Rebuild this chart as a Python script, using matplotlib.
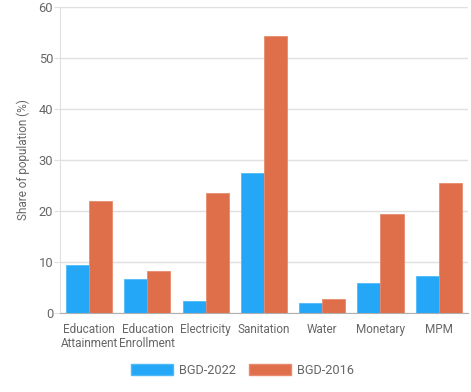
import numpy as np
import matplotlib.pyplot as plt
from matplotlib.patches import Patch

categories = ["Education\nAttainment", "Education\nEnrollment", "Electricity",
              "Sanitation", "Water", "Monetary", "MPM"]
bgd_2022 = [9.4, 6.6, 2.3, 27.4, 1.9, 5.9, 7.3]
bgd_2016 = [21.9, 8.3, 23.5, 54.4, 2.7, 19.4, 25.5]

blue = "#23a7f6"
orange = "#df6e4b"
text_col = "#666666"

plt.rcParams['font.family'] = ['Roboto', 'DejaVu Sans']

fig = plt.figure(figsize=(4.71, 3.92), dpi=100)
ax = fig.add_axes([0.1274, 0.2015, 0.866, 0.7805])

x = np.arange(len(categories))
w = 0.395
ax.bar(x - w/2, bgd_2022, w, color=blue, edgecolor="#4fb9f7", linewidth=0.6, zorder=3)
ax.bar(x + w/2, bgd_2016, w, color=orange, edgecolor="#e88a6d", linewidth=0.6, zorder=3)

ax.set_xlim(-0.5, len(categories) - 0.5)
ax.set_ylim(0, 60)
ax.set_yticks(range(0, 61, 10))
ax.set_xticks(x)
ax.set_xticklabels(categories, fontsize=8.5, color=text_col, linespacing=1.15)
ax.tick_params(axis='x', length=0, pad=7)
ax.tick_params(axis='y', length=4, color="#e0e0e0", labelsize=9.3, labelcolor=text_col, pad=1)
ax.grid(axis='y', color="#e0e0e0", linewidth=1, zorder=0)
ax.set_axisbelow(True)

for s in ["top", "right"]:
    ax.spines[s].set_visible(False)
ax.spines["left"].set_color("#e0e0e0")
ax.spines["bottom"].set_color("#b0b0b0")

ax.set_ylabel("Share of population (%)", fontsize=8.5, color=text_col, labelpad=6)

handles = [Patch(facecolor=blue, edgecolor="#4fb9f7"), Patch(facecolor=orange, edgecolor="#e88a6d")]
fig.legend(handles, ["BGD-2022", "BGD-2016"], loc="center", bbox_to_anchor=(0.515, 0.056),
           ncol=2, frameon=False, fontsize=9.2, labelcolor=text_col,
           handlelength=3.3, handleheight=1.0, handletextpad=0.5, columnspacing=1.0)

fig.savefig("out.png", dpi=100)
